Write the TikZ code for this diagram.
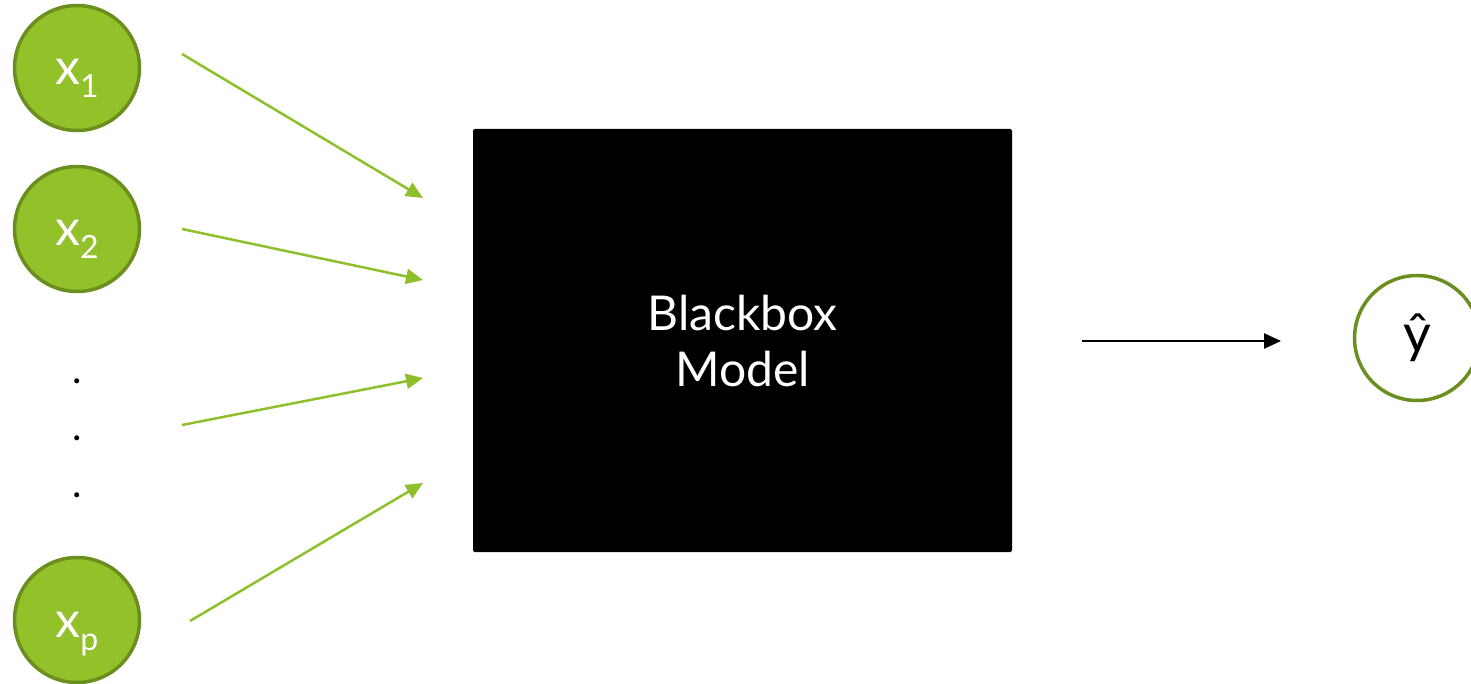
\documentclass[tikz,border=0pt]{standalone}
\usepackage{fontspec}
\setmainfont{Lato}
\usetikzlibrary{arrows.meta}
\definecolor{gfill}{HTML}{92C12A}
\definecolor{gdraw}{HTML}{6A8F1F}
\definecolor{garrow}{HTML}{8DC02B}
\newcommand{\subl}[1]{\raisebox{-13pt}{\fontsize{32}{32}\selectfont #1}}
\tikzset{
  feat/.style={circle, fill=gfill, draw=gdraw, line width=3.5pt, minimum size=125pt, inner sep=0pt, text=white, font=\fontsize{50}{56}\selectfont, text height=34pt, text depth=0pt},
  outc/.style={circle, fill=white, draw=gdraw, line width=3.5pt, minimum size=125pt, inner sep=0pt, text=black, font=\fontsize{54}{56}\selectfont},
  garr/.style={draw=garrow, line width=2.5pt, -{Triangle[length=17pt,width=15pt]}},
  barr/.style={draw=black, line width=2.5pt, -{Triangle[length=17pt,width=15pt]}},
  dotn/.style={inner sep=0pt, font=\fontsize{40}{40}\selectfont},
}
\begin{document}
\begin{tikzpicture}[x=1pt,y=-1pt]
\useasboundingbox (0,0) rectangle (1471,684);
\node[feat] (x1) at (77,68) {x\subl{1}};
\node[feat] (x2) at (77,229) {x\subl{2}};
\node[feat] (xp) at (77,620) {x\subl{p}};
\node[dotn] (d1) at (77,381) {.};
\node[dotn] (d2) at (77,438) {.};
\node[dotn] (d3) at (77,495) {.};
\node[fill=black, rounded corners=2pt, minimum width=539pt, minimum height=423pt, inner sep=0pt, text=white, align=center, font=\fontsize{48}{56}\selectfont] (bb) at (742.5,340.5) {Blackbox\\Model};
\node[outc] (yh) at (1417,338) {ŷ};
\coordinate (s1) at (182,54);
\coordinate (e1) at (423,198);
\coordinate (s2) at (182,229);
\coordinate (e2) at (423,280);
\coordinate (s3) at (182,425);
\coordinate (e3) at (423,378);
\coordinate (s4) at (190,621);
\coordinate (e4) at (423,483);
\coordinate (bs) at (1082,341);
\coordinate (be) at (1281,341);
\draw[garr] (s1) -- (e1);
\draw[garr] (s2) -- (e2);
\draw[garr] (s3) -- (e3);
\draw[garr] (s4) -- (e4);
\draw[barr] (bs) -- (be);
\end{tikzpicture}
\end{document}
